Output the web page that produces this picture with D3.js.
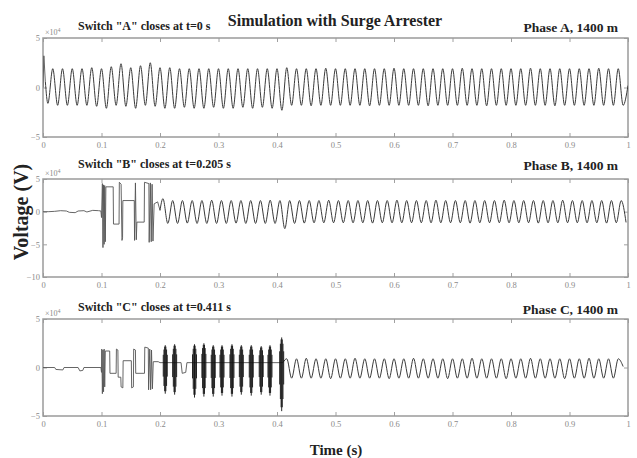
<!DOCTYPE html>
<html>
<head>
<meta charset="utf-8">
<script src="https://cdn.jsdelivr.net/npm/d3@7/dist/d3.min.js"></script>
<style>
  body { margin: 0; background: #fff; }
  text { font-family: "Liberation Serif", "Times New Roman", serif; }
</style>
</head>
<body>
<svg id="chart" width="637" height="458"></svg>
<script>
// ---- data (voltages in units of 1e4 V, time in s) ----
var xTicks = [0, 0.1, 0.2, 0.3, 0.4, 0.5, 0.6, 0.7, 0.8, 0.9, 1];
var yTicksAC = [5, 0, -5];
var yTicksB = [5, 0, -5, -10];
var halfPeriod = 1 / 120;   // 60 Hz, one extreme every half cycle

// phase A: closing spike, then one extreme per half cycle
var phaseA_steps = [[0, 0], [0.0015, 3.2], [0.004, 0.6]];
var phaseA_t0 = 1 / 120;
var phaseA_wave = [
  -1.6, 1.9, -1.8, 1.9, -1.8, 1.9, -1.8, 1.9, -1.8, 2.0,
  -1.9, 1.9, -2.1, 2.1, -1.8, 2.4, -1.9, 2.0, -2.1, 2.2,
  -1.8, 2.5, -1.9, 2.0, -2.1, 2.0, -2.1, 1.9, -2.0, 1.9,
  -2.1, 1.9, -2.1, 1.9, -2.0, 1.9, -2.1, 1.9, -2.1, 1.9,
  -2.0, 1.9, -2.1, 1.9, -2.0, 1.9, -2.1, 1.9, -2.3, 2.0,
  -1.8, 1.9, -1.8, 1.9, -1.85, 1.9, -1.8, 1.95, -1.8, 1.9,
  -1.8, 1.9, -1.8, 1.9, -1.8, 1.9, -1.85, 1.9, -1.8, 1.9,
  -1.8, 1.95, -1.8, 1.9, -1.8, 1.9, -1.8, 1.9, -1.85, 1.9,
  -1.8, 1.9, -1.8, 1.9, -1.8, 1.95, -1.8, 1.9, -1.8, 1.9,
  -1.85, 1.9, -1.8, 1.9, -1.8, 1.9, -1.8, 1.9, -1.8, 1.95,
  -1.8, 1.9, -1.8, 1.9, -1.85, 1.9, -1.8, 1.9, -1.8, 1.9,
  -1.8, 1.9, -1.8, 1.95, -1.8, 1.9, -1.8, 1.9, -1.8, 0.2
];

// phase B: induced voltage, stepped transient, then steady wave from 0.205 s
var phaseB_steps = [
  [0, 0], [0.01, 0], [0.02, 0.05], [0.03, 0.15], [0.04, 0.1], [0.045, -0.1],
  [0.055, -0.15], [0.06, 0.1], [0.07, 0.15], [0.075, -0.05], [0.085, 0.2],
  [0.095, 0.15], [0.099, 0.1], [0.1, -0.9], [0.1015, 4.3], [0.1025, -5.5],
  [0.1035, 4.1], [0.1045, -5.0], [0.1055, 4.0], [0.1065, -4.6], [0.1075, 3.8],
  [0.12, 3.8], [0.1205, -1.9], [0.13, -1.9], [0.1305, 4.5], [0.1335, 4.2],
  [0.135, -4.4], [0.136, -4.0], [0.1365, 1.7], [0.156, 1.7], [0.1565, -4.4],
  [0.158, 4.4], [0.1595, -4.3], [0.1605, -1.6], [0.173, -1.6], [0.1735, 4.5],
  [0.181, 4.3], [0.1815, -4.7], [0.1835, 4.4], [0.185, -4.6], [0.1865, 4.2],
  [0.188, -4.5], [0.19, 1.2], [0.196, 1.5], [0.2, 0.2]
];
var phaseB_t0 = 0.205;
var phaseB_wave = [
  2.0, -1.8, 1.7, -1.8, 1.7, -1.75, 1.7, -1.8, 1.7, -1.8,
  1.75, -1.8, 1.7, -1.8, 1.7, -1.75, 1.7, -1.8, 1.7, -1.8,
  1.7, -1.8, 1.75, -1.8, 1.7, -2.6, 1.7, -1.8, 1.7, -1.75,
  1.7, -1.7, 1.7, -1.7, 1.75, -1.7, 1.7, -1.7, 1.7, -1.7,
  1.7, -1.7, 1.7, -1.75, 1.7, -1.7, 1.7, -1.7, 1.75, -1.7,
  1.7, -1.7, 1.7, -1.7, 1.7, -1.7, 1.75, -1.7, 1.7, -1.7,
  1.7, -1.7, 1.7, -1.75, 1.7, -1.7, 1.7, -1.7, 1.7, -1.7,
  1.75, -1.7, 1.7, -1.7, 1.7, -1.7, 1.7, -1.75, 1.7, -1.7,
  1.7, -1.7, 1.75, -1.7, 1.7, -1.7, 1.7, -1.7, 1.7, -1.7,
  1.7, -1.75, 1.7, -1.7, 1.7, -1.65
];

// phase C: stepped transient, restrike bursts, then steady wave after 0.411 s
var phaseC_steps = [
  [0, 0], [0.02, 0], [0.022, -0.2], [0.034, -0.25], [0.036, 0], [0.06, 0],
  [0.063, -0.35], [0.068, -0.3], [0.07, 0], [0.099, 0], [0.1, -0.5],
  [0.1005, 1.9], [0.1015, -2.7], [0.1025, 1.8], [0.1035, -2.5], [0.1045, 1.9],
  [0.1055, -2.0], [0.1065, 1.7], [0.114, 1.7], [0.1145, -0.6], [0.125, -0.6],
  [0.1255, 1.9], [0.128, 1.8], [0.1285, -1.0], [0.133, -1.0], [0.1335, -2.0],
  [0.1365, -2.1], [0.137, 0.7], [0.151, 0.7], [0.1515, -2.1], [0.1545, -2.0],
  [0.155, 1.9], [0.158, 1.8], [0.1585, -0.6], [0.1735, -0.6], [0.174, 2.1],
  [0.18, 2.0], [0.1805, -2.3], [0.1825, 1.9], [0.184, -2.3], [0.1855, 1.8],
  [0.187, -2.2], [0.1885, 0.6], [0.197, 0.6], [0.2, 0.5], [0.236, 0.5],
  [0.238, -0.6], [0.244, -0.5], [0.246, 0.5], [0.41, 0.5]
];
var phaseC_burstT = [0.209, 0.225, 0.259, 0.275, 0.291, 0.306, 0.323, 0.339, 0.356, 0.373, 0.388, 0.408];
var phaseC_burstHi = [2.3, 2.4, 2.4, 2.5, 2.3, 2.3, 2.4, 2.3, 2.3, 2.2, 2.3, 3.1];
var phaseC_burstLo = [-2.7, -2.8, -3.1, -3.0, -3.0, -2.9, -3.0, -2.8, -2.9, -2.8, -2.9, -4.5];
var phaseC_t0 = 0.4167;
var phaseC_wave = [
  0.9, -1.1, 0.9, -1.1, 0.95, -1.1, 0.9, -1.1, 0.9, -1.15,
  0.9, -1.1, 0.9, -1.1, 0.95, -1.1, 0.9, -1.1, 0.9, -1.1,
  0.9, -1.15, 0.9, -1.1, 0.9, -1.1, 0.95, -1.1, 0.9, -1.1,
  0.9, -1.1, 0.9, -1.15, 0.9, -1.1, 0.9, -1.1, 0.95, -1.1,
  0.9, -1.1, 0.9, -1.1, 0.9, -1.15, 0.9, -1.1, 0.9, -1.1,
  0.95, -1.1, 0.9, -1.1, 0.9, -1.1, 0.9, -1.15, 0.9, -1.1,
  0.9, -1.1, 0.95, -1.1, 0.9, -1.1, 0.9, -1.1, 0.9, 0.1
];

// ---- layout ----
var svg = d3.select("#chart");
var x = d3.scaleLinear().domain([0, 1]).range([43, 628]);

var panels = [
  { top: 38, bottom: 137, yDomain: [-5, 5], yTicks: yTicksAC,
    steps: phaseA_steps, t0: phaseA_t0, wave: phaseA_wave,
    sw: 'Switch "A" closes at t=0 s', swY: 30, ph: "Phase A, 1400 m", phY: 32 },
  { top: 179, bottom: 277, yDomain: [-10, 5], yTicks: yTicksB,
    steps: phaseB_steps, t0: phaseB_t0, wave: phaseB_wave,
    sw: 'Switch "B" closes at t=0.205 s', swY: 168, ph: "Phase B, 1400 m", phY: 170 },
  { top: 319, bottom: 416, yDomain: [-5, 5], yTicks: yTicksAC,
    steps: phaseC_steps, t0: phaseC_t0, wave: phaseC_wave,
    bursts: { t: phaseC_burstT, hi: phaseC_burstHi, lo: phaseC_burstLo },
    sw: 'Switch "C" closes at t=0.411 s', swY: 311, ph: "Phase C, 1400 m", phY: 314 }
];

panels.forEach(function (p) {
  var y = d3.scaleLinear().domain(p.yDomain).range([p.bottom, p.top]);
  var g = svg.append("g");

  // axes: MATLAB style, ticks pointing inward on all four sides
  var fmt = function (d) { return d3.format("~g")(d); };
  var axes = [
    [d3.axisBottom(x).tickValues(xTicks).tickFormat(fmt).tickPadding(5), "translate(0," + p.bottom + ")"],
    [d3.axisTop(x).tickValues(xTicks).tickFormat(""), "translate(0," + p.top + ")"],
    [d3.axisLeft(y).tickValues(p.yTicks).tickFormat(fmt).tickPadding(3), "translate(" + x(0) + ",0)"],
    [d3.axisRight(y).tickValues(p.yTicks).tickFormat(""), "translate(" + x(1) + ",0)"]
  ];
  axes.forEach(function (a) {
    var ax = g.append("g").attr("transform", a[1])
      .call(a[0].tickSizeInner(-4).tickSizeOuter(0));
    ax.select(".domain").remove();
    ax.selectAll("line").attr("stroke", "#a0a0a0");
    ax.selectAll("text").attr("fill", "#8a8a8a").style("font-size", "8.5px")
      .style("font-family", "'Liberation Serif', serif");
  });

  g.append("rect")
    .attr("x", x(0)).attr("y", p.top)
    .attr("width", x(1) - x(0)).attr("height", p.bottom - p.top)
    .attr("fill", "none").attr("stroke", "#9a9a9a").attr("stroke-width", 1.5);

  // exponent label
  var ex = g.append("text").attr("x", x(0) + 2).attr("y", p.top - 3)
    .attr("fill", "#8a8a8a").style("font-size", "8px");
  ex.append("tspan").text("\u00d710");
  ex.append("tspan").attr("dy", -3).style("font-size", "6px").text("4");

  var clip = "clip" + p.top;
  g.append("clipPath").attr("id", clip).append("rect")
    .attr("x", x(0)).attr("y", p.top).attr("width", x(1) - x(0)).attr("height", p.bottom - p.top);
  var plot = g.append("g").attr("clip-path", "url(#" + clip + ")");

  // stepped / transient part
  var stepLine = d3.line().x(function (d) { return x(d[0]); }).y(function (d) { return y(d[1]); });
  plot.append("path").datum(p.steps)
    .attr("d", stepLine).attr("fill", "none").attr("stroke", "#555").attr("stroke-width", 0.9);

  // steady wave: one extreme every half cycle, smoothed
  var last = p.steps[p.steps.length - 1];
  var wavePts = [last].concat(p.wave.map(function (v, i) { return [p.t0 + i * halfPeriod, v]; }));
  plot.append("path").datum(wavePts)
    .attr("d", stepLine.curve(d3.curveMonotoneX))
    .attr("fill", "none").attr("stroke", "#3a3a3a").attr("stroke-width", 1);

  // restrike bursts
  if (p.bursts) {
    var b = p.bursts;
    var offs = [-2, -1.3, -0.6, 0, 0.6, 1.3, 2];
    var shrink = [0.45, 0.75, 0.92, 1, 0.92, 0.75, 0.45];
    plot.selectAll("path.burst").data(b.t).enter().append("path")
      .attr("class", "burst")
      .attr("d", function (t, i) {
        var base = 0.5;
        return offs.map(function (o, k) {
          var hi = base + (b.hi[i] - base) * shrink[k];
          var lo = base + (b.lo[i] - base) * shrink[k];
          return "M" + (x(t) + o) + "," + y(hi) + "V" + y(lo);
        }).join("");
      })
      .attr("fill", "none").attr("stroke", "#111").attr("stroke-width", 0.9);
  }

  g.append("text").attr("x", 78).attr("y", p.swY)
    .style("font-size", "12px").style("font-weight", "bold").attr("fill", "#222").text(p.sw);
  g.append("text").attr("x", 618).attr("y", p.phY).attr("text-anchor", "end")
    .style("font-size", "13.5px").style("font-weight", "bold").attr("fill", "#222").text(p.ph);
});

svg.append("text").attr("x", 335).attr("y", 26).attr("text-anchor", "middle")
  .style("font-size", "16px").style("font-weight", "bold").attr("fill", "#222")
  .text("Simulation with Surge Arrester");

svg.append("text").attr("transform", "translate(28,212) rotate(-90)")
  .attr("text-anchor", "middle")
  .style("font-size", "20px").style("font-weight", "bold").attr("fill", "#222")
  .text("Voltage (V)");

svg.append("text").attr("x", 336).attr("y", 455).attr("text-anchor", "middle")
  .style("font-size", "15px").style("font-weight", "bold").attr("fill", "#222")
  .text("Time (s)");
</script>
</body>
</html>
